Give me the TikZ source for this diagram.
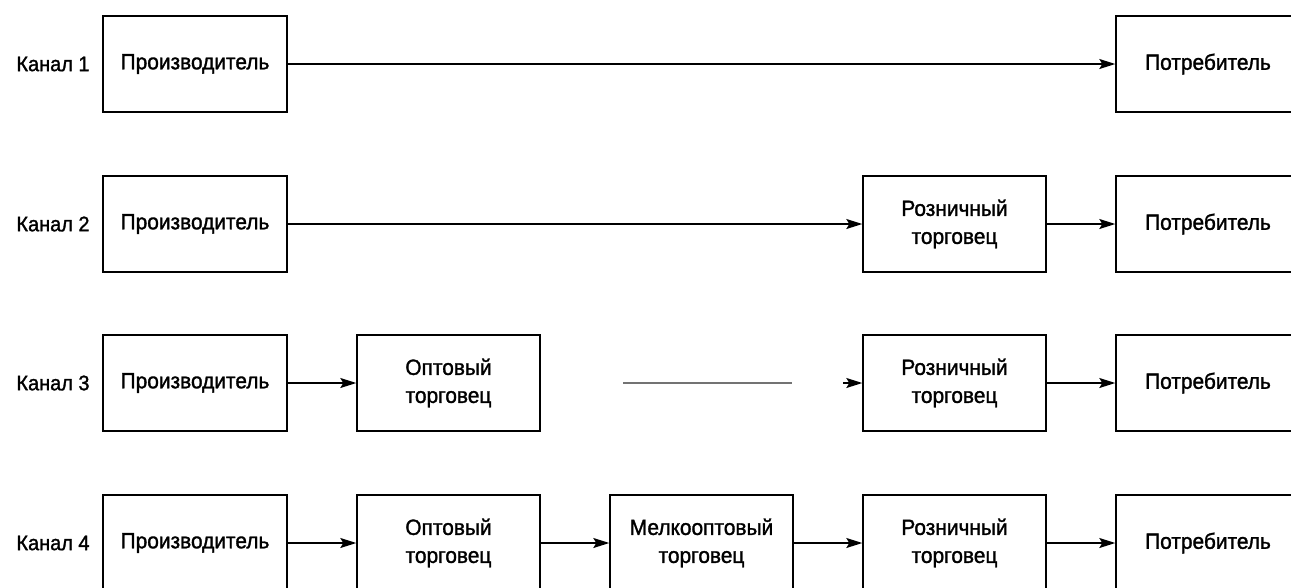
\documentclass[tikz,border=0pt]{standalone}
\usepackage{fontspec}
\setmainfont{Liberation Sans}[FakeStretch=0.95,FakeBold=1.4]
\usetikzlibrary{arrows.meta}
\begin{document}
\begin{tikzpicture}[x=1pt,y=-1pt,
  box/.style={draw, line width=1.4pt, minimum width=184pt, minimum height=96pt, inner sep=0pt, font=\fontsize{22}{28}\selectfont, align=center},
  lbl/.style={font=\fontsize{21}{25}\selectfont, inner sep=0pt},
  arr/.style={line width=1.3pt, -{Stealth[length=16pt,width=10pt,inset=3pt]}},
  faint/.style={line width=1.3pt, draw=black!55}]
\useasboundingbox (0,0) rectangle (1291,587);
\clip (0,0) rectangle (1291,587);
% Row 1
\node[lbl] (k1) at (53,64) {Канал 1};
\node[box] (p1) at (195,64) {Производитель};
\node[box] (c1) at (1208,64) {Потребитель};
\draw[arr] (p1.east) -- (c1.west);
% Row 2
\node[lbl] (k2) at (53,224) {Канал 2};
\node[box] (p2) at (195,224) {Производитель};
\node[box, minimum width=183pt] (r2) at (954.5,224) {Розничный\\торговец};
\node[box] (c2) at (1208,224) {Потребитель};
\draw[arr] (p2.east) -- (r2.west);
\draw[arr] (r2.east) -- (c2.west);
% Row 3
\node[lbl] (k3) at (53,383) {Канал 3};
\node[box] (p3) at (195,383) {Производитель};
\node[box, minimum width=183pt] (o3) at (448.5,383) {Оптовый\\торговец};
\node[box, minimum width=183pt] (r3) at (954.5,383) {Розничный\\торговец};
\node[box] (c3) at (1208,383) {Потребитель};
\coordinate (g1) at (623,383);
\coordinate (g2) at (792,383);
\coordinate (g3) at (843,383);
\draw[arr] (p3.east) -- (o3.west);
\draw[faint] (g1) -- (g2);
\draw[arr] (g3) -- (r3.west);
\draw[arr] (r3.east) -- (c3.west);
% Row 4
\node[lbl] (k4) at (53,543) {Канал 4};
\node[box] (p4) at (195,543) {Производитель};
\node[box, minimum width=183pt] (o4) at (448.5,543) {Оптовый\\торговец};
\node[box, minimum width=183pt] (m4) at (701.5,543) {Мелкооптовый\\торговец};
\node[box, minimum width=183pt] (r4) at (954.5,543) {Розничный\\торговец};
\node[box] (c4) at (1208,543) {Потребитель};
\draw[arr] (p4.east) -- (o4.west);
\draw[arr] (o4.east) -- (m4.west);
\draw[arr] (m4.east) -- (r4.west);
\draw[arr] (r4.east) -- (c4.west);
\end{tikzpicture}
\end{document}
